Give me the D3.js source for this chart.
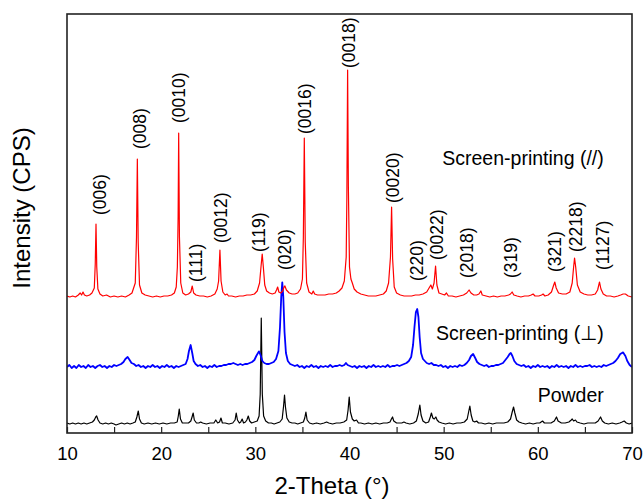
<!DOCTYPE html>
<html><head><meta charset="utf-8">
<script src="https://cdn.jsdelivr.net/npm/d3@7"></script>
<style>body{margin:0;background:#fff}svg{display:block}text{font-family:"Liberation Sans",Arial,Helvetica,sans-serif;fill:#000}</style>
</head><body><div id="chart"></div>
<script>
// ---- data (2-theta in degrees, intensity in arbitrary CPS units above each trace's baseline) ----
const xTicks = [10,15,20,25,30,35,40,45,50,55,60,65,70];
const xTickLabels = [10,20,30,40,50,60,70];
const seriesNames = ["Screen-printing (//)","Screen-printing (\u22a5)","Powder"];
const seriesColors = ["#ff0000","#0000ff","#000000"];
const seriesOffsets = [136, 66, 9];

const redProfile = [[10.0,1],[10.3,0],[10.6,1],[10.9,0],[11.2,2],[11.4,4],[11.55,2],[11.7,5],[11.85,2],[12.1,1],[12.4,2],[12.65,4],
[12.9,9],[13.0,33],[13.08,73],[13.16,30],[13.28,8],[13.5,3],
[13.8,1],[14.2,2],[14.6,0],[15.0,1],[15.4,0],[15.8,1],[16.2,0],[16.6,2],[16.9,4],
[17.25,14],[17.38,60],[17.47,138],[17.56,55],[17.7,12],[17.95,4],
[18.3,2],[18.7,1],[19.1,0],[19.5,1],[19.9,0],[20.3,1],[20.7,1],[21.1,2],[21.4,4],[21.6,10],
[21.72,30],[21.8,80],[21.86,164],[21.94,60],[22.08,14],[22.3,4],
[22.6,2],[22.9,3],[23.15,5],[23.3,11],[23.45,4],[23.7,2],[24.1,1],[24.5,1],[24.9,0],[25.3,1],[25.7,3],[25.95,8],
[26.1,16],[26.24,47],[26.36,16],[26.55,5],[26.8,2],[27.0,3],[27.15,1],[27.5,1],[27.9,0],[28.3,1],[28.7,1],[29.1,2],[29.5,2],[29.9,3],[30.2,6],[30.45,14],
[30.6,30],[30.73,43],[30.85,30],[31.0,12],[31.2,6],[31.5,4],[31.8,3],[32.1,4],[32.25,7],[32.37,10],[32.5,5],[32.7,4],[32.9,6],[33.05,10],[33.14,11],[33.3,7],[33.6,4],[33.9,3],[34.2,3],[34.5,4],[34.8,8],[35.0,18],
[35.1,60],[35.2,159],[35.3,55],[35.45,14],[35.7,5],[36.0,3],[36.15,6],[36.3,3],[36.6,2],[37.0,2],[37.4,2],[37.8,3],[38.2,3],[38.6,4],[38.9,6],[39.2,9],[39.45,16],[39.65,40],
[39.72,100],[39.8,227],[39.88,110],[40.0,30],[40.15,18],[40.3,14],[40.5,8],[40.8,5],[41.2,3],[41.6,2],[42.0,1],[42.4,1],[42.8,1],[43.2,2],[43.6,3],[43.9,6],[44.15,14],[44.35,40],
[44.47,90],[44.58,38],[44.75,10],[45.0,4],[45.4,2],[45.8,1],[46.2,1],[46.6,1],[47.0,2],[47.4,2],[47.8,3],[48.2,5],[48.45,9],[48.64,12],[48.8,8],[48.98,14],
[49.14,31],[49.28,12],[49.5,4],[49.8,3],[50.1,2],[50.3,4],[50.5,1],[50.9,1],[51.3,0],[51.7,1],[52.1,2],[52.45,4],[52.7,7],[52.9,4],[53.2,2],[53.5,2],[53.75,3],[53.95,6],[54.1,2],[54.5,1],[54.9,0],[55.3,1],[55.7,0],[56.1,1],[56.5,1],[56.9,2],[57.1,3],[57.27,5],[57.45,2],[57.8,1],[58.2,0],[58.6,1],[59.0,1],[59.3,2],[59.5,3],[59.7,1],[60.1,1],[60.4,2],[60.56,3],[60.75,1],[61.1,2],[61.45,5],[61.65,11],[61.8,15],[61.95,9],[62.2,4],[62.6,3],[63.0,3],[63.4,5],[63.65,14],[63.8,30],[63.9,39],[64.02,30],[64.2,12],[64.5,5],[64.9,3],[65.3,2],[65.7,2],[66.1,3],[66.35,7],[66.55,15],[66.7,8],[66.95,3],[67.3,1],[67.7,1],[68.1,0],[68.5,1],[68.8,2],[69.06,3],[69.3,3],[69.6,1],[70.0,0]];

const blueProfile = [[10.0,0],[10.25,2],[10.5,-1],[10.75,1],[11.0,-1],[11.25,2],[11.5,0],[11.75,1],[12.0,-1],[12.25,2],[12.5,0],[12.75,1],[13.0,-1],[13.25,1],[13.5,2],[13.75,0],[14.0,1],[14.25,-1],[14.5,1],[14.75,0],[15.0,2],[15.25,1],[15.5,2],[15.75,3],[16.0,5],[16.2,8],[16.44,10],[16.65,7],[16.85,4],[17.1,3],[17.35,1],[17.6,2],[17.85,0],[18.1,1],[18.35,-1],[18.6,1],[18.85,0],[19.1,2],[19.35,0],[19.6,1],[19.85,-1],[20.1,1],[20.35,0],[20.6,2],[20.85,0],[21.1,1],[21.35,-1],[21.6,1],[21.85,0],[22.1,1],[22.35,2],[22.6,3],[22.8,8],[22.95,16],[23.13,22],[23.3,14],[23.45,6],[23.65,3],[23.9,1],[24.15,2],[24.4,0],[24.65,1],[24.9,-1],[25.15,1],[25.4,0],[25.65,2],[25.9,0],[26.15,1],[26.4,1],[26.65,2],[26.9,2],[27.15,3],[27.4,3],[27.66,4],[27.9,3],[28.15,2],[28.4,3],[28.65,2],[28.9,3],[29.15,3],[29.4,4],[29.65,5],[29.9,7],[30.1,11],[30.38,15.6],[30.55,12],[30.75,6],[30.95,4],[31.2,3],[31.45,3],[31.7,4],[31.95,5],[32.2,8],[32.45,16],[32.62,40],[32.75,70],[32.86,84.6],[32.97,70],[33.1,35],[33.25,14],[33.45,6],[33.7,3],[33.95,2],[34.2,1],[34.45,2],[34.7,0],[34.95,1],[35.2,-1],[35.45,1],[35.7,0],[35.95,2],[36.2,0],[36.45,1],[36.7,-1],[36.95,1],[37.2,0],[37.45,1],[37.7,0],[37.95,2],[38.2,0],[38.45,1],[38.7,1],[38.95,2],[39.2,1],[39.45,2],[39.62,4],[39.8,2],[40.05,1],[40.3,0],[40.55,1],[40.8,-1],[41.05,1],[41.3,0],[41.55,1],[41.8,-1],[42.05,1],[42.3,0],[42.55,2],[42.8,0],[43.05,1],[43.3,0],[43.55,1],[43.8,0],[44.05,2],[44.3,0],[44.55,1],[44.8,1],[45.05,2],[45.3,1],[45.55,2],[45.8,3],[46.05,4],[46.3,6],[46.55,10],[46.75,22],[46.9,40],[47.05,55],[47.19,58],[47.32,50],[47.45,30],[47.6,14],[47.8,8],[48.0,6],[48.2,4],[48.45,3],[48.7,4],[48.95,2],[49.2,2],[49.45,1],[49.7,2],[49.95,0],[50.2,1],[50.45,-1],[50.7,1],[50.95,0],[51.2,1],[51.45,0],[51.7,2],[51.95,1],[52.2,2],[52.45,4],[52.7,7],[52.9,11],[53.13,13],[53.35,9],[53.55,5],[53.8,3],[54.05,2],[54.3,1],[54.55,2],[54.8,0],[55.05,1],[55.3,1],[55.55,2],[55.8,2],[56.05,3],[56.3,4],[56.55,7],[56.8,10],[57.0,13],[57.13,14],[57.3,11],[57.5,6],[57.75,3],[58.0,2],[58.25,1],[58.5,2],[58.75,0],[59.0,1],[59.25,-1],[59.5,1],[59.75,0],[60.0,2],[60.25,0],[60.5,1],[60.75,0],[61.0,1],[61.25,-1],[61.5,1],[61.75,0],[62.0,2],[62.25,0],[62.5,1],[62.75,0],[63.0,1],[63.25,-1],[63.5,1],[63.75,0],[64.0,2],[64.25,0],[64.5,1],[64.75,0],[65.0,1],[65.25,1],[65.5,2],[65.75,0],[66.0,1],[66.25,0],[66.5,1],[66.75,0],[67.0,2],[67.25,1],[67.5,2],[67.75,3],[68.0,4],[68.25,6],[68.5,9],[68.75,13],[69.06,14.6],[69.3,11],[69.5,6],[69.75,2],[70.0,0]];

const blackProfile = [[10.0,1],[10.3,0],[10.6,1],[10.9,0],[11.2,1],[11.5,0],[11.8,1],[12.1,0],[12.4,1],[12.7,2],[12.9,4],[13.05,7],[13.15,8],[13.3,4],[13.5,1],[13.8,0],[14.1,1],[14.4,0],[14.7,1],[15.0,0],[15.2,-1],[15.5,0],[15.8,1],[16.1,0],[16.4,1],[16.7,0],[17.0,1],[17.25,2],[17.42,7],[17.57,13],[17.7,5],[17.9,1],[18.2,0],[18.6,1],[19.0,0],[19.4,1],[19.8,0],[20.2,1],[20.6,0],[21.0,1],[21.4,1],[21.7,2],[21.82,8],[21.92,15],[22.05,5],[22.25,1],[22.6,1],[22.9,1],[23.15,3],[23.28,7],[23.4,11],[23.52,4],[23.75,1],[24.0,1],[24.2,2],[24.4,1],[24.8,0],[25.2,1],[25.6,1],[25.8,4],[26.0,1],[26.2,2],[26.35,6],[26.5,1],[26.8,1],[27.2,0],[27.6,1],[27.85,4],[27.97,11],[28.1,4],[28.3,1],[28.45,2],[28.6,5],[28.75,1],[28.95,2],[29.1,4],[29.25,8],[29.4,3],[29.6,1],[29.9,2],[30.2,3],[30.4,8],[30.52,30],[30.63,106],[30.74,30],[30.88,8],[31.1,3],[31.4,1],[31.7,1],[32.0,0],[32.3,1],[32.6,2],[32.85,5],[33.0,18],[33.1,29],[33.2,17],[33.35,6],[33.6,2],[33.9,1],[34.2,1],[34.5,0],[34.8,1],[35.1,2],[35.25,6],[35.37,12],[35.5,4],[35.75,1],[36.1,0],[36.5,1],[36.9,0],[37.3,1],[37.57,2],[37.8,1],[38.2,0],[38.6,1],[39.0,1],[39.4,2],[39.7,4],[39.85,14],[39.97,27],[40.1,12],[40.3,5],[40.5,3],[40.75,4],[40.95,1],[41.2,1],[41.6,0],[42.0,1],[42.4,0],[42.8,1],[43.2,0],[43.6,1],[44.0,1],[44.3,2],[44.45,5],[44.57,7],[44.7,3],[45.0,1],[45.3,1],[45.55,1],[45.78,2],[46.0,1],[46.4,0],[46.8,1],[47.1,3],[47.3,10],[47.47,19],[47.6,9],[47.8,3],[48.1,1],[48.4,2],[48.58,7],[48.7,11],[48.85,6],[49.0,5],[49.17,7],[49.3,4],[49.5,2],[49.8,1],[50.2,0],[50.6,1],[51.0,0],[51.4,1],[51.8,1],[52.2,2],[52.5,5],[52.65,12],[52.78,18],[52.92,9],[53.1,3],[53.3,2],[53.5,3],[53.7,1],[54.0,1],[54.4,0],[54.8,1],[55.2,0],[55.6,1],[56.0,1],[56.4,1],[56.8,2],[57.1,5],[57.28,12],[57.42,17],[57.56,11],[57.75,4],[58.0,2],[58.3,1],[58.7,0],[59.1,1],[59.5,0],[59.9,1],[60.2,1],[60.5,3],[60.7,1],[61.0,1],[61.4,1],[61.75,3],[61.98,7],[62.15,3],[62.5,1],[62.9,1],[63.3,2],[63.55,4],[63.65,5],[63.8,3],[64.0,4],[64.15,2],[64.5,1],[64.9,0],[65.3,1],[65.7,1],[66.1,1],[66.4,3],[66.66,7],[66.85,3],[67.1,1],[67.5,0],[67.9,1],[68.3,0],[68.7,1],[68.95,2],[69.17,3],[69.4,1],[69.7,0],[70.0,1]];

// peak annotations on the red trace: label, 2-theta of label centre, intensity at label start
const peakLabels = ["(006)","(008)","(0010)","(111)","(0012)","(119)","(020)","(0016)","(0018)","(0020)","(220)","(0022)","(2018)","(319)","(321)","(2218)","(1127)"];
const peakLabelTheta = [13.5,17.75,21.89,23.7,26.35,30.39,33.15,35.27,39.98,44.59,47.14,49.32,52.45,57.15,61.82,64.05,66.95];
const peakLabelLevel = [82,148,174,15,54,45,27,163,229,94,16,37,19,19,25,45,27];

// ---- layout ----
const W = 644, H = 501;
const m = {left:67, right:12, top:14, bottom:68};
const x = d3.scaleLinear().domain([10,70]).range([m.left, W - m.right]);
const y = d3.scaleLinear().domain([0,419]).range([H - m.bottom, m.top]);

const svg = d3.select("#chart").append("svg").attr("width",W).attr("height",H);

svg.append("defs").append("clipPath").attr("id","clip")
  .append("rect").attr("x",m.left).attr("y",m.top).attr("width",W-m.left-m.right).attr("height",H-m.top-m.bottom);

const profiles = [redProfile, blueProfile, blackProfile];
const widths = [1.2, 1.8, 1.2];
const g = svg.append("g").attr("clip-path","url(#clip)");
[2,1,0].forEach(i => {
  const line = d3.line().x(d => x(d[0])).y(d => y(d[1] + seriesOffsets[i]));
  g.append("path").datum(profiles[i]).attr("d", line)
    .attr("fill","none").attr("stroke", seriesColors[i]).attr("stroke-width", widths[i]).attr("stroke-linejoin","round");
});

// frame
svg.append("rect").attr("x",m.left).attr("y",m.top).attr("width",W-m.left-m.right).attr("height",H-m.top-m.bottom)
  .attr("fill","none").attr("stroke","#222").attr("stroke-width",1.6);

// bottom axis: inward ticks
const axis = d3.axisBottom(x).tickValues(xTicks).tickSizeInner(-6).tickSizeOuter(0)
  .tickFormat(d => xTickLabels.includes(d) ? d : "");
const ax = svg.append("g").attr("transform",`translate(0,${H - m.bottom})`).call(axis);
ax.select(".domain").remove();
ax.selectAll(".tick line").attr("stroke","#222").attr("stroke-width",1.2);
ax.selectAll(".tick text").attr("y",14).attr("dy","0.71em").style("font-size","18.5px").attr("fill","#000")
  .style("font-family",'"Liberation Sans",Arial,sans-serif');

// peak labels
svg.selectAll("text.peak").data(peakLabels).enter().append("text").attr("class","peak")
  .attr("transform",(d,i)=>`translate(${x(peakLabelTheta[i])},${y(peakLabelLevel[i] + seriesOffsets[0])}) rotate(-90)`)
  .attr("dy","0.35em").attr("text-anchor","start").style("font-size","17.5px").text(d=>d);

// series names (right-aligned)
const nameTheta = [67.0, 67.0, 67.0];
const nameLevel = [132, 27, 22];
seriesNames.forEach((n,i)=>{
  svg.append("text").attr("x", x(nameTheta[i])).attr("y", y(nameLevel[i] + seriesOffsets[i]))
    .attr("text-anchor","end").style("font-size","19.5px").text(n);
});

// axis titles
svg.append("text").attr("x",332).attr("y",494).attr("text-anchor","middle").style("font-size","24px").text("2-Theta (\u00b0)");
svg.append("text").attr("transform","translate(30,208) rotate(-90)").attr("text-anchor","middle").style("font-size","24px").text("Intensity (CPS)");
</script></body></html>
